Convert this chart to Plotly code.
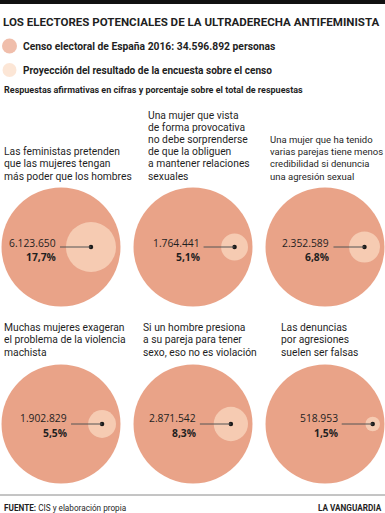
import math
import plotly.graph_objects as go

W, H = 385, 513

title = "LOS ELECTORES POTENCIALES DE LA ULTRADERECHA ANTIFEMINISTA"
legend_labels = ["Censo electoral de España 2016: 34.596.892 personas",
                 "Proyección del resultado de la encuesta sobre el censo"]
subtitle = "Respuestas afirmativas en cifras y porcentaje sobre el total de respuestas"
source_label = "FUENTE:"
source_text = "CIS y elaboración propia"
brand = "LA VANGUARDIA"

questions = [
    ["Las feministas pretenden", "que las mujeres tengan", "más poder que los hombres"],
    ["Una mujer que vista", "de forma provocativa", "no debe sorprenderse",
     "de que la obliguen", "a mantener relaciones", "sexuales"],
    ["Una mujer que ha tenido", "varias parejas tiene menos",
     "credibilidad si denuncia", "una agresión sexual"],
    ["Muchas mujeres exageran", "el problema de la violencia", "machista"],
    ["Si un hombre presiona", "a su pareja para tener", "sexo, eso no es violación"],
    ["Las denuncias", "por agresiones", "suelen ser falsas"],
]
count_labels = ["6.123.650", "1.764.441", "2.352.589", "1.902.829", "2.871.542", "518.953"]
pcts = [17.7, 5.1, 6.8, 5.5, 8.3, 1.5]
pct_labels = ["17,7%", "5,1%", "6,8%", "5,5%", "8,3%", "1,5%"]

# ---- layout / style ----
BIG = "#E9A388"
SMALL = "#FBDCC4"
TXT = "#1f1f1f"
COND = "Roboto, Liberation Sans, sans-serif"
NUMF = "Open Sans, Roboto, sans-serif"

col_x = [61, 193, 325]
row_y = [247, 424]
R = 59.5
margin_in = 4.5
q_left = [3, 147, 269, 3, 142, 280]
q_size = [10.3, 10.3, 9.5, 10.3, 10.3, 10.3]
q_last_y = [176, 352]
q_step = 12.2

cx, cy = [], []
for i in range(6):
    cx.append(col_x[i % 3])
    cy.append(row_y[i // 3])
small_r = [R * math.sqrt(p / 100) for p in pcts]
dot_x = [cx[i] + R - small_r[i] - margin_in for i in range(6)]

fig = go.Figure()
fig.add_trace(go.Scatter(x=cx, y=cy, mode="markers",
                         marker=dict(size=2 * R, color=BIG, line=dict(width=0)),
                         hoverinfo="skip"))
fig.add_trace(go.Scatter(x=dot_x, y=cy, mode="markers",
                         marker=dict(size=[2 * r for r in small_r], color=SMALL, line=dict(width=0)),
                         hoverinfo="skip"))
# legend swatches
fig.add_trace(go.Scatter(x=[9.5, 9.5], y=[46, 70], mode="markers",
                         marker=dict(size=[15, 14], color=[BIG, SMALL], line=dict(width=0)),
                         hoverinfo="skip"))

shapes = []
annotations = []

def ann(x, y, text, size, family=COND, xanchor="left", color=TXT):
    annotations.append(dict(x=x, y=y, xref="x", yref="y", text=text, showarrow=False,
                            xanchor=xanchor, yanchor="middle", borderpad=0,
                            font=dict(family=family, size=size, color=color)))

# lines to dots
for i in range(6):
    tx_end = dot_x[i] - 34
    shapes.append(dict(type="line", xref="x", yref="y", x0=tx_end + 3, x1=dot_x[i],
                       y0=cy[i], y1=cy[i], line=dict(color="#555555", width=1)))
fig.add_trace(go.Scatter(x=dot_x, y=cy, mode="markers",
                         marker=dict(size=4.5, color="#1a1a1a"), hoverinfo="skip"))

for i in range(6):
    row = i // 3
    tx_end = dot_x[i] - 34
    ndy = -4 if row == 0 else -6
    pdy = 10 if row == 0 else 9
    ann(tx_end, cy[i] + ndy, count_labels[i], 10.3, family=NUMF, xanchor="right")
    ann(tx_end, cy[i] + pdy, "<b>" + pct_labels[i] + "</b>", 10.3, family=NUMF, xanchor="right")
    lines = questions[i]
    n = len(lines)
    for k, line in enumerate(lines):
        y = q_last_y[row] - (n - 1 - k) * q_step
        ann(q_left[i], y, line, q_size[i])

# header
shapes.append(dict(type="rect", xref="x", yref="y", x0=0, x1=W, y0=0, y1=4,
                   fillcolor="#111111", line=dict(width=0)))
ann(2, 22, "<b>" + title + "</b>", 11.55)
ann(22, 46, "<b>" + legend_labels[0] + "</b>", 10.3)
ann(22, 70, "<b>" + legend_labels[1] + "</b>", 10.1)
ann(3, 90, "<b>" + subtitle + "</b>", 9)

# footer
shapes.append(dict(type="line", xref="x", yref="y", x0=0, x1=W, y0=495, y1=495,
                   line=dict(color="#8a8a8a", width=1)))
ann(3, 508, "<b>" + source_label + "</b> " + source_text, 8.2)
ann(383, 508, "<b>" + brand + "</b>", 8.2, xanchor="right")

fig.update_layout(
    width=W, height=H, margin=dict(l=0, r=0, t=0, b=0),
    paper_bgcolor="white", plot_bgcolor="white", showlegend=False,
    xaxis=dict(range=[0, W], visible=False, fixedrange=True),
    yaxis=dict(range=[H, 0], visible=False, fixedrange=True),
    shapes=shapes, annotations=annotations,
)
fig.write_html("out.html", config={"displayModeBar": False},
               post_script="document.body.style.margin='0px';document.body.style.overflow='hidden';")
